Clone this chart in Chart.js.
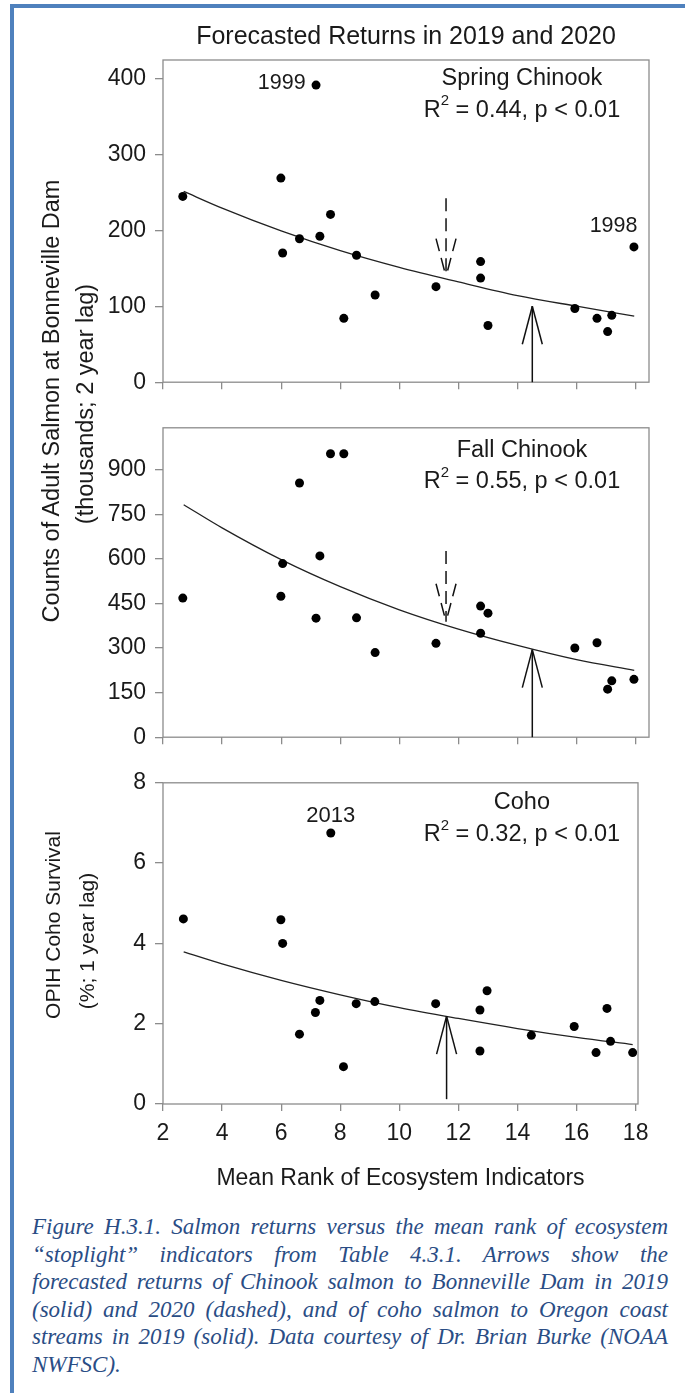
<!DOCTYPE html>
<html>
<head>
<meta charset="utf-8">
<script src="https://cdn.jsdelivr.net/npm/chart.js@4.4.1/dist/chart.umd.min.js"></script>
<style>
  html, body { margin: 0; padding: 0; background: #fff; }
  body { width: 685px; height: 1393px; position: relative; overflow: hidden;
         font-family: 'Liberation Sans', Arial, sans-serif; color: #1a1a1a; }
  #frame { position: absolute; left: 10px; top: 3.5px; right: 0; bottom: 0;
           border-top: 4.5px solid #4f81bd; border-left: 4.5px solid #4f81bd; }
  canvas { position: absolute; left: 0; }
  .ylab { position: absolute; white-space: nowrap; line-height: 1;
          transform: translate(-50%, -50%) rotate(-90deg); color: #1a1a1a; }
  .caption { position: absolute; left: 32px; width: 636px; top: 1213px;
             font-family: 'Liberation Serif', 'Times New Roman', serif; font-style: italic;
             font-size: 23px; line-height: 27.5px; color: #2a4d85; }
  .caption div { text-align: justify; text-align-last: justify; white-space: nowrap; }
  .caption div.last { text-align-last: left; }
</style>
</head>
<body>
<div id="frame"></div>

<canvas id="spring" width="685" height="405" style="top:0px;width:685px;height:405px"></canvas>
<canvas id="fall" width="685" height="355" style="top:405px;width:685px;height:355px"></canvas>
<canvas id="coho" width="685" height="440" style="top:760px;width:685px;height:440px"></canvas>

<div class="ylab" style="left:52px;top:401px;font-size:23.5px">Counts of Adult Salmon at Bonneville Dam</div>
<div class="ylab" style="left:86px;top:404px;font-size:23.5px">(thousands; 2 year lag)</div>
<div class="ylab" style="left:52px;top:925px;font-size:21px">OPIH Coho Survival</div>
<div class="ylab" style="left:86px;top:941px;font-size:21px">(%; 1 year lag)</div>

<div class="caption">
  <div>Figure H.3.1. Salmon returns versus the mean rank of ecosystem</div>
  <div>“stoplight” indicators from Table 4.3.1. Arrows show the</div>
  <div>forecasted returns of Chinook salmon to Bonneville Dam in 2019</div>
  <div>(solid) and 2020 (dashed), and of coho salmon to Oregon coast</div>
  <div>streams in 2019 (solid). Data courtesy of Dr. Brian Burke (NOAA</div>
  <div class="last">NWFSC).</div>
</div>

<script>
// Mean rank of ecosystem indicators for each Chinook return year (2 year lag)
const rankChinook = [2.67, 5.99, 6.05, 6.62, 7.18, 7.31, 7.67, 8.12, 8.55, 9.18,
                     11.24, 12.75, 12.75, 13.0, 15.94, 16.69, 17.05, 17.19, 17.94];
// Adult counts at Bonneville Dam, thousands
const springChinook = [244.5, 268.6, 170, 188.7, 391, 192, 220.8, 84, 167, 114.7,
                       125.7, 158.7, 137, 74.6, 97, 84, 66.6, 88, 178];
const fallChinook = [468.5, 474.8, 584.6, 856, 401, 610.6, 954.7, 954.7, 402, 285,
                     316, 441.6, 350, 417.7, 300.6, 318, 161.7, 189.7, 194.9];

// Mean rank for each coho return year (1 year lag) and OPIH survival, %
const rankCoho = [2.69, 5.99, 6.05, 6.62, 7.16, 7.31, 7.68, 8.11, 8.54, 9.17,
                  11.23, 12.73, 12.73, 12.97, 14.47, 15.92, 16.66, 17.03, 17.15, 17.9];
const cohoSurvival = [4.61, 4.59, 4.0, 1.74, 2.28, 2.58, 6.75, 0.93, 2.50, 2.55,
                      2.50, 2.34, 1.32, 2.82, 1.71, 1.93, 1.28, 2.38, 1.56, 1.28];

// Fitted curves
const fitRank = [2.7, 4, 6, 8, 10, 12, 14, 16, 17.95];
const springFit = [251, 229, 199, 173, 151, 132, 114, 100, 87];
const fallFit = [783, 705, 598, 507, 429, 364, 309, 261, 225];
const cohoFitRank = [2.7, 4, 6, 8, 10, 12, 14, 16, 17.9];
const cohoFit = [3.79, 3.49, 3.08, 2.72, 2.40, 2.13, 1.88, 1.66, 1.48];

// Tick values
const rankTicks = [2, 4, 6, 8, 10, 12, 14, 16, 18];
const springTicks = [0, 100, 200, 300, 400];
const fallTicks = [0, 150, 300, 450, 600, 750, 900];
const cohoTicks = [0, 2, 4, 6, 8];

// Forecast arrows: rank, tail value, tip value (2019 solid, 2020 dashed)
const arrowDashed = [false, true];
const springArrowRank = [14.5, 11.58];
const springArrowFrom = [0, 242];
const springArrowTo = [100, 139];
const fallArrowRank = [14.5, 11.58];
const fallArrowFrom = [0, 627];
const fallArrowTo = [295, 389];
const cohoArrowRank = [11.6];
const cohoArrowFrom = [0.12];
const cohoArrowTo = [2.19];

const FONT = "'Liberation Sans', Arial, sans-serif";
const INK = '#1a1a1a';
const FRAME = '#8c8c8c';

function drawArrow(ctx, px, yTail, yTip, dashed) {
  const head = 38, half = 10;
  const dir = yTip < yTail ? 1 : -1;
  ctx.save();
  ctx.strokeStyle = '#111';
  ctx.lineWidth = 1.5;
  ctx.setLineDash(dashed ? [13, 7] : []);
  ctx.beginPath(); ctx.moveTo(px, yTail); ctx.lineTo(px, yTip); ctx.stroke();
  [-half, half].forEach(dx => {
    ctx.beginPath();
    ctx.moveTo(px + dx, yTip + dir * head);
    ctx.lineTo(px, yTip);
    ctx.stroke();
  });
  ctx.restore();
}

function drawR2(ctx, cx, cy, value) {
  const big = `23.5px ${FONT}`, small = `15px ${FONT}`;
  const tail = ` = ${value}, p < 0.01`;
  ctx.font = big; const wR = ctx.measureText('R').width; const wT = ctx.measureText(tail).width;
  ctx.font = small; const wS = ctx.measureText('2').width;
  let x = cx - (wR + wS + wT) / 2;
  ctx.textAlign = 'left';
  ctx.font = big; ctx.fillText('R', x, cy); x += wR;
  ctx.font = small; ctx.fillText('2', x, cy - 9); x += wS;
  ctx.font = big; ctx.fillText(tail, x, cy);
}

const panelPlugin = {
  id: 'panel',
  afterDraw(chart, args, opts) {
    const { ctx, chartArea: a, scales: { x, y } } = chart;
    ctx.save();
    ctx.strokeStyle = FRAME;
    ctx.lineWidth = 1.3;
    ctx.strokeRect(a.left, a.top, a.right - a.left, a.bottom - a.top);

    (opts.arrows || []).forEach(ar => {
      drawArrow(ctx, x.getPixelForValue(ar.rank), y.getPixelForValue(ar.from),
                y.getPixelForValue(ar.to), ar.dashed);
    });

    ctx.fillStyle = INK;
    ctx.textBaseline = 'middle';
    (opts.notes || []).forEach(n => {
      const px = x.getPixelForValue(n.x), py = y.getPixelForValue(n.y);
      if (n.r2) { drawR2(ctx, px, py, n.r2); return; }
      ctx.font = `${n.size}px ${FONT}`;
      ctx.textAlign = 'center';
      ctx.fillText(n.text, px, py);
    });
    ctx.restore();
  }
};

function pairs(xs, ys) { return xs.map((v, i) => ({ x: v, y: ys[i] })); }

function makePanel(id, p) {
  const tickGrid = { drawOnChartArea: false, drawTicks: true, color: FRAME, lineWidth: 1.3 };
  return new Chart(document.getElementById(id), {
    type: 'scatter',
    data: {
      datasets: [
        { data: pairs(p.xs, p.ys), pointRadius: 4.5, pointHoverRadius: 4.5,
          backgroundColor: '#000', borderWidth: 0 },
        { data: pairs(p.fitX, p.fitY), showLine: true, pointRadius: 0,
          borderColor: '#222', borderWidth: 1.3, cubicInterpolationMode: 'monotone', fill: false }
      ]
    },
    options: {
      responsive: false,
      animation: false,
      devicePixelRatio: 1,
      layout: { padding: { top: p.padTop, right: p.padRight, left: 0, bottom: 0 } },
      scales: {
        x: {
          type: 'linear', min: 2, max: p.xMax,
          afterBuildTicks: s => { s.ticks = rankTicks.map(v => ({ value: v })); },
          afterFit: s => { s.height = p.xHeight; },
          grid: Object.assign({ tickLength: 7 }, tickGrid),
          border: { display: false },
          ticks: { display: !!p.xLabels, padding: 9, autoSkip: false, maxRotation: 0,
                   font: { family: FONT, size: 23 }, color: INK },
          title: p.xLabels ? { display: true, text: 'Mean Rank of Ecosystem Indicators',
                   font: { family: FONT, size: 23 }, color: INK, padding: { top: 0, bottom: 8 } }
                 : { display: false }
        },
        y: {
          type: 'linear', min: 0, max: p.yMax,
          afterBuildTicks: s => { s.ticks = p.yTicks.map(v => ({ value: v })); },
          afterFit: s => { s.width = 163; },
          grid: Object.assign({ tickLength: 8 }, tickGrid),
          border: { display: false },
          ticks: { padding: 9, font: { family: FONT, size: 23 }, color: INK }
        }
      },
      plugins: {
        legend: { display: false },
        tooltip: { enabled: false },
        title: p.title ? { display: true, text: p.title, fullSize: false, color: INK,
                 font: { family: FONT, size: 25, weight: 'normal' }, padding: { top: 22, bottom: 8 } }
               : { display: false },
        panel: { arrows: p.arrows, notes: p.notes }
      }
    },
    plugins: [panelPlugin]
  });
}

function arrowList(ranks, from, to) {
  return ranks.map((r, i) => ({ rank: r, from: from[i], to: to[i], dashed: arrowDashed[i] }));
}

makePanel('spring', {
  xs: rankChinook, ys: springChinook, fitX: fitRank, fitY: springFit,
  xMax: 18.45, yMax: 424, yTicks: springTicks, padTop: 0, padRight: 36, xHeight: 10,
  title: 'Forecasted Returns in 2019 and 2020',
  arrows: arrowList(springArrowRank, springArrowFrom, springArrowTo),
  notes: [
    { text: 'Spring Chinook', x: 14.15, y: 399, size: 23.5 },
    { r2: '0.44', x: 14.15, y: 358 },
    { text: '1999', x: 6.02, y: 394, size: 21.5 },
    { text: '1998', x: 17.25, y: 205, size: 21.5 }
  ]
});

makePanel('fall', {
  xs: rankChinook, ys: fallChinook, fitX: fitRank, fitY: fallFit,
  xMax: 18.45, yMax: 1042, yTicks: fallTicks, padTop: 8, padRight: 36, xHeight: 12,
  arrows: arrowList(fallArrowRank, fallArrowFrom, fallArrowTo),
  notes: [
    { text: 'Fall Chinook', x: 14.15, y: 966, size: 23.5 },
    { r2: '0.55', x: 14.15, y: 861 }
  ]
});

makePanel('coho', {
  xs: rankCoho, ys: cohoSurvival, fitX: cohoFitRank, fitY: cohoFit,
  xMax: 18.08, yMax: 8, yTicks: cohoTicks, padTop: 9, padRight: 47, xHeight: 96, xLabels: true,
  arrows: arrowList(cohoArrowRank, cohoArrowFrom, cohoArrowTo),
  notes: [
    { text: 'Coho', x: 14.15, y: 7.51, size: 23.5 },
    { r2: '0.32', x: 14.15, y: 6.7 },
    { text: '2013', x: 7.68, y: 7.18, size: 22 }
  ]
});
</script>
</body>
</html>
